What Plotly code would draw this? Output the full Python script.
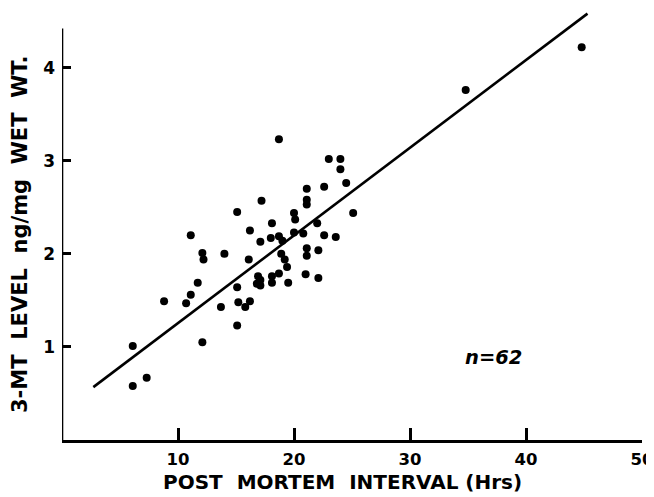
import plotly.graph_objects as go

# Post mortem interval (hours) and 3-MT level (ng/mg wet wt.)
pmi_hours = [
    18.7, 23.0, 24.0, 24.0, 24.5, 22.6, 21.1, 21.1, 21.1, 17.2,
    15.1, 20.0, 20.1, 25.1, 18.1, 22.0, 16.2, 11.1, 18.0, 18.7,
    19.0, 20.0, 20.8, 22.6, 23.6, 17.1, 21.1, 21.1, 22.1, 12.1,
    12.2, 14.0, 16.1, 18.9, 19.2, 19.4, 18.7, 18.1, 18.1, 16.9,
    16.8, 17.1, 19.5, 21.0, 22.1, 11.7, 15.1, 11.1, 10.7, 8.8,
    15.2, 16.2, 15.8, 13.7, 15.1, 12.1, 6.1, 6.1, 7.3, 34.8,
    44.8, 17.1,
]
mt_level = [
    3.23, 3.02, 3.02, 2.91, 2.76, 2.72, 2.70, 2.58, 2.53, 2.57,
    2.45, 2.44, 2.37, 2.44, 2.33, 2.33, 2.25, 2.20, 2.17, 2.19,
    2.14, 2.23, 2.22, 2.20, 2.18, 2.13, 2.06, 1.98, 2.04, 2.01,
    1.94, 2.00, 1.94, 2.00, 1.94, 1.86, 1.79, 1.76, 1.69, 1.76,
    1.68, 1.66, 1.69, 1.78, 1.74, 1.69, 1.64, 1.56, 1.47, 1.49,
    1.48, 1.49, 1.43, 1.43, 1.23, 1.05, 1.01, 0.58, 0.67, 3.76,
    4.22, 1.72,
]

# Regression line as drawn
fit_intercept = 0.314
fit_slope = 0.0942
fit_x = [2.7, 45.3]
fit_y = [fit_intercept + fit_slope * v for v in fit_x]

x_tickvals = [10, 20, 30, 40, 50]
y_tickvals = [1, 2, 3, 4]

FONT = "DejaVu Sans"

# The page body has an 8px default margin, so the figure is sized to fill the rest of the window.
fig = go.Figure()
fig.add_trace(go.Scatter(
    x=fit_x, y=fit_y, mode="lines",
    line=dict(color="black", width=2.6),
    hoverinfo="skip", showlegend=False,
))
fig.add_trace(go.Scatter(
    x=pmi_hours, y=mt_level, mode="markers",
    marker=dict(color="black", size=8),
    showlegend=False, cliponaxis=False,
))

fig.update_layout(
    width=646, height=489,
    margin=dict(l=54, r=12, t=2, b=57),
    paper_bgcolor="white", plot_bgcolor="white",
    font=dict(family=FONT, color="black"),
    xaxis=dict(
        range=[0, 50], tickvals=x_tickvals,
        ticks="inside", ticklen=12, tickwidth=2.5, tickcolor="black",
        showline=True, linecolor="black", linewidth=2.6,
        showgrid=False, zeroline=False, ticklabelstandoff=2,
        tickfont=dict(size=16.5, family=FONT, weight="bold"),
    ),
    yaxis=dict(
        range=[0, 4.62], tickvals=y_tickvals,
        ticks="inside", ticklen=9, tickwidth=2.5, tickcolor="black",
        showline=False, showgrid=False, zeroline=False, ticklabelstandoff=6,
        tickfont=dict(size=17, family=FONT, weight="bold"),
    ),
    shapes=[dict(
        type="line", xref="x", yref="y", x0=0, x1=0, y0=0, y1=4.42,
        line=dict(color="black", width=2.6),
    )],
    annotations=[
        dict(
            text="POST  MORTEM  INTERVAL (Hrs)", xref="paper", yref="paper",
            x=(342 - 62) / 580, y=-(496 - 440) / 430, xanchor="center", yanchor="bottom",
            showarrow=False, font=dict(size=20, family=FONT, weight="bold"),
        ),
        dict(
            text="3-MT  LEVEL  ng/mg  WET  WT.", xref="paper", yref="paper",
            x=-(62 - 20) / 580, y=(440 - 235) / 430, xanchor="center", yanchor="middle",
            textangle=-90, showarrow=False,
            font=dict(size=21, family=FONT, weight="bold"),
        ),
        dict(
            text="<i>n=62</i>", xref="x", yref="y", x=37.2, y=0.89,
            showarrow=False, font=dict(size=19.5, family=FONT, weight="bold"),
        ),
    ],
)

fig.write_html("out.html")
